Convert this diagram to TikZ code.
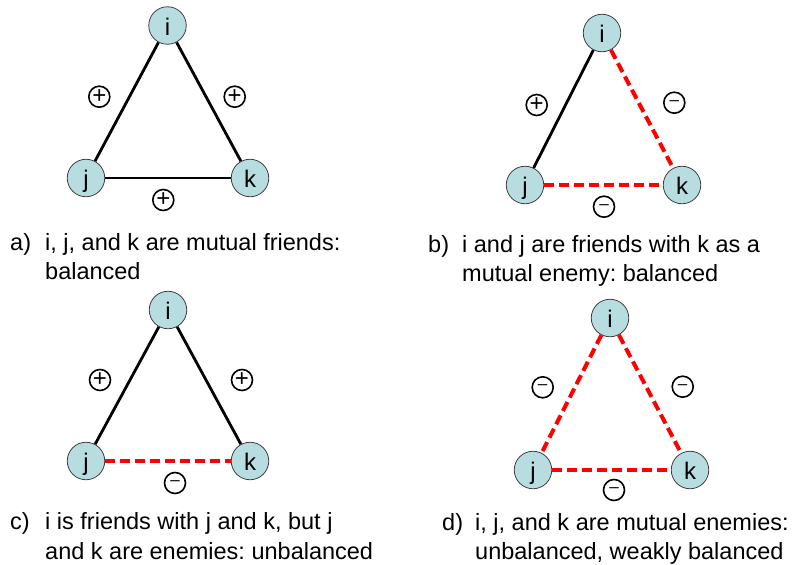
\documentclass[tikz,border=0pt]{standalone}
\usepackage{fontspec}
\setmainfont{Liberation Sans}
\frenchspacing
\definecolor{nodefill}{RGB}{183,221,224}
\definecolor{negred}{RGB}{255,0,0}
\begin{document}
\begin{tikzpicture}[x=1pt,y=-1pt,
  vert/.style={circle, draw=black!75, line width=0.8pt, fill=nodefill, minimum size=37.5pt, inner sep=0pt,
    text height=19pt, text depth=0pt, font=\fontsize{24}{24}\selectfont},
  sgn/.style={circle, draw=black, line width=1.6pt, minimum size=21pt, inner sep=0pt},
  plussgn/.style={sgn, font=\fontsize{24}{24}\selectfont},
  minussgn/.style={sgn, font=\fontsize{17}{17}\selectfont},
  posedge/.style={black, line width=2.8pt},
  negedge/.style={negred, line width=4pt, dash pattern=on 10pt off 5pt},
  captext/.style={anchor=base west, inner sep=0pt, font=\fontsize{23.5}{28}\selectfont}]
\useasboundingbox (0,0) rectangle (793,565);

% panel a
\node[vert] (ai) at (167.5,25.5) {i};
\node[vert] (aj) at (86,178) {j};
\node[vert] (ak) at (250,178) {k};
\draw[posedge] (ai) -- (aj);
\draw[posedge] (ai) -- (ak);
\draw[posedge] (aj) -- (ak);
\node[plussgn] (as1) at (99.3,96.7) {+};
\node[plussgn] (as2) at (234.7,96.7) {+};
\node[plussgn] (as3) at (163.3,200) {+};
\node[captext] (al) at (10,250.5) {a)};
\node[captext] (at1) at (45,250.5) {i, j, and k are mutual friends:};
\node[captext] (at2) at (45,279) {balanced};

% panel b
\node[vert] (bi) at (602,33) {i};
\node[vert] (bj) at (525,185) {j};
\node[vert] (bk) at (682,185) {k};
\draw[posedge] (bi) -- (bj);
\draw[negedge] (bi) -- (bk);
\draw[negedge] (bj) -- (bk);
\node[plussgn] (bs1) at (536.7,105) {+};
\node[minussgn] (bs2) at (674.3,102.7) {–};
\node[minussgn] (bs3) at (604,206.7) {–};
\node[captext] (bl) at (428,252) {b)};
\node[captext] (bt1) at (462,252) {i and j are friends with k as a};
\node[captext] (bt2) at (462,281) {mutual enemy: balanced};

% panel c
\node[vert] (ci) at (168,310) {i};
\node[vert] (cj) at (86,461) {j};
\node[vert] (ck) at (250,461) {k};
\draw[posedge] (ci) -- (cj);
\draw[posedge] (ci) -- (ck);
\draw[negedge] (cj) -- (ck);
\node[plussgn] (cs1) at (100,380) {+};
\node[plussgn] (cs2) at (242,380) {+};
\node[minussgn] (cs3) at (175,483) {–};
\node[captext] (cl) at (10,529) {c)};
\node[captext] (ct1) at (45,529) {i is friends with j and k, but j};
\node[captext] (ct2) at (45,559) {and k are enemies: unbalanced};

% panel d
\node[vert] (di) at (610,318) {i};
\node[vert] (dj) at (533,470) {j};
\node[vert] (dk) at (690,470) {k};
\draw[negedge] (di) -- (dj);
\draw[negedge] (di) -- (dk);
\draw[negedge] (dj) -- (dk);
\node[minussgn] (ds1) at (542.7,387.3) {–};
\node[minussgn] (ds2) at (682.7,386.7) {–};
\node[minussgn] (ds3) at (614,490) {–};
\node[captext] (dl) at (442,530) {d)};
\node[captext] (dt1) at (475,530) {i, j, and k are mutual enemies:};
\node[captext] (dt2) at (475,559) {unbalanced, weakly balanced};
\end{tikzpicture}
\end{document}
